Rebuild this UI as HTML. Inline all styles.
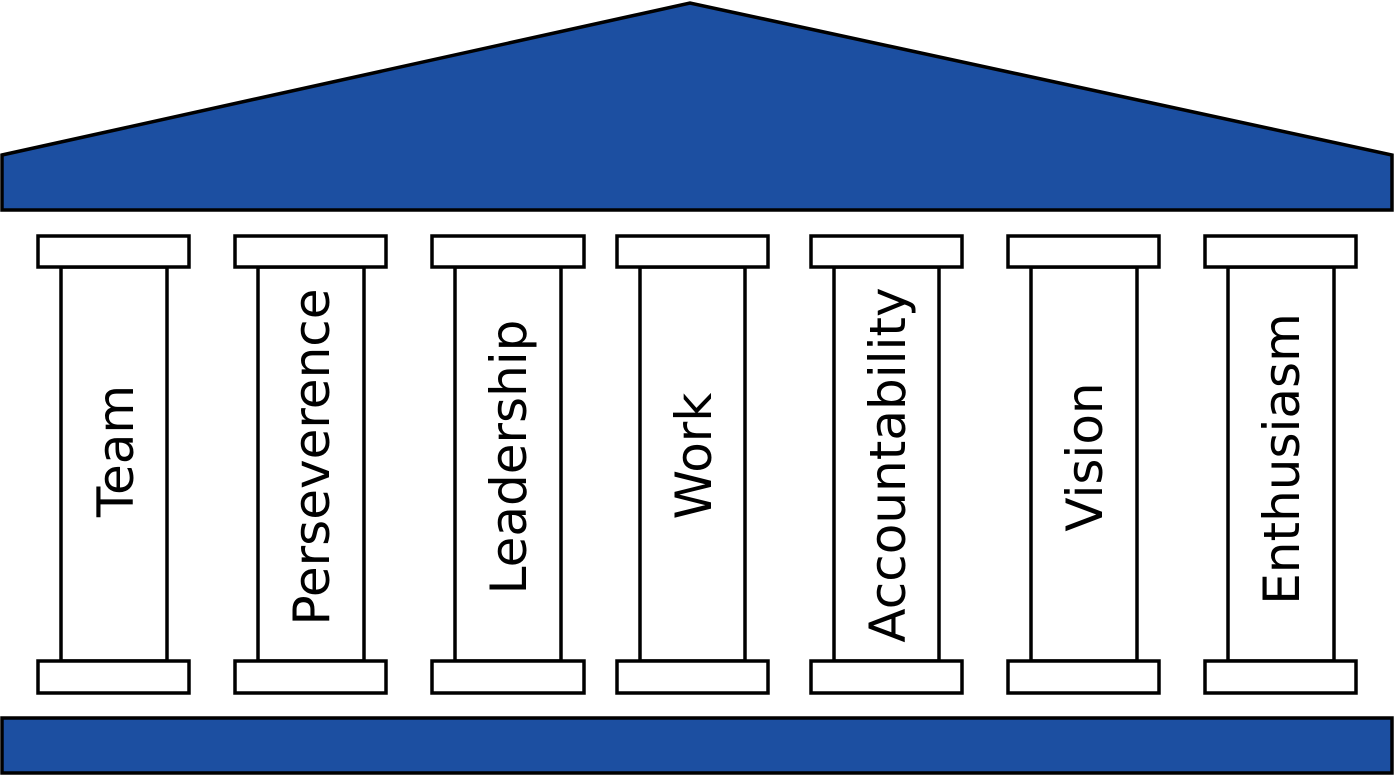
<!DOCTYPE html>
<html><head><style>html,body{margin:0;padding:0;background:#fff}svg{display:block}</style></head>
<body>
<svg width="1395" height="777" viewBox="0 0 1395 777" xmlns="http://www.w3.org/2000/svg">
<g stroke="#000" stroke-width="3.5" stroke-linejoin="miter">
<polygon points="2,155 690,3 1392,155 1392,210 2,210" fill="#1c4fa1"/>
<rect x="2" y="718" width="1390" height="55" fill="#1c4fa1"/>
<g fill="#fff">
<rect x="61" y="267" width="106" height="394"/><rect x="38" y="236" width="151" height="31"/><rect x="38" y="661" width="151" height="32"/>
<rect x="258" y="267" width="106" height="394"/><rect x="235" y="236" width="151" height="31"/><rect x="235" y="661" width="151" height="32"/>
<rect x="455" y="267" width="106" height="394"/><rect x="432" y="236" width="152" height="31"/><rect x="432" y="661" width="152" height="32"/>
<rect x="640" y="267" width="105" height="394"/><rect x="617" y="236" width="151" height="31"/><rect x="617" y="661" width="151" height="32"/>
<rect x="834" y="267" width="105" height="394"/><rect x="811" y="236" width="151" height="31"/><rect x="811" y="661" width="151" height="32"/>
<rect x="1031" y="267" width="106" height="394"/><rect x="1008" y="236" width="151" height="31"/><rect x="1008" y="661" width="151" height="32"/>
<rect x="1228" y="267" width="106" height="394"/><rect x="1205" y="236" width="151" height="31"/><rect x="1205" y="661" width="151" height="32"/>
</g></g>
<g font-family="DejaVu Sans, sans-serif" font-size="50" fill="#000" text-anchor="middle">
<text transform="translate(133,451) rotate(-90)">Team</text>
<text transform="translate(329,457) rotate(-90)">Perseverence</text>
<text transform="translate(526,457) rotate(-90)">Leadership</text>
<text transform="translate(711,456) rotate(-90)">Work</text>
<text transform="translate(905,465) rotate(-90)">Accountability</text>
<text transform="translate(1102,457) rotate(-90)">Vision</text>
<text transform="translate(1299,459) rotate(-90)">Enthusiasm</text>
</g>
</svg>
</body></html>
